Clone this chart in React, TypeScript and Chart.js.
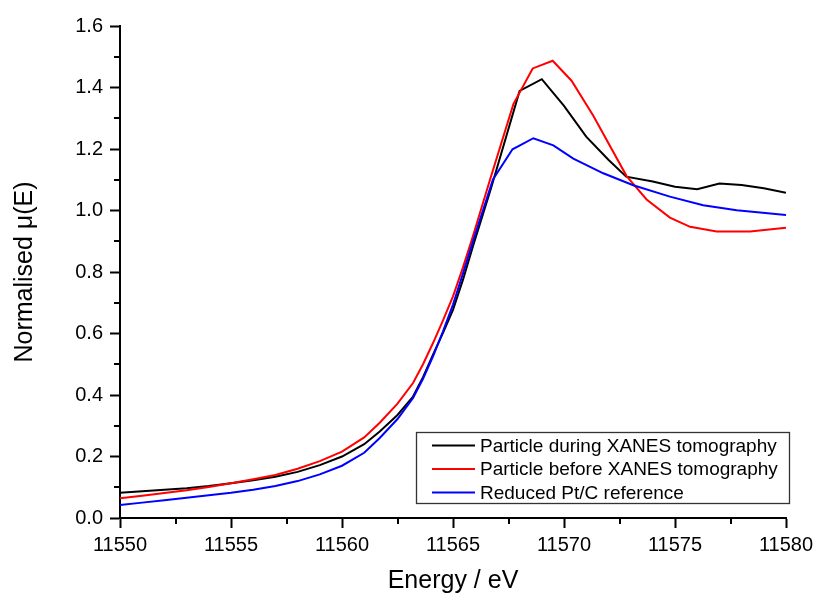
import { useEffect, useRef } from "react";
import { Chart, registerables } from "chart.js";

Chart.register(...registerables);

const FONT = "Arial, 'Liberation Sans', sans-serif";

// Particle during XANES tomography (black)
const energyDuring = [
  11550, 11551, 11552, 11553, 11554, 11555, 11556, 11557, 11558, 11559, 11560,
  11561, 11561.7, 11562.5, 11563.2, 11563.65, 11564.1, 11564.55, 11565, 11565.45,
  11565.9, 11566.7, 11568, 11569, 11570, 11571, 11572, 11572.8, 11574, 11575,
  11576, 11577, 11578, 11579, 11580,
];
const muDuring = [
  0.082, 0.087, 0.092, 0.097, 0.104, 0.113, 0.123, 0.134, 0.15, 0.172, 0.2,
  0.24, 0.281, 0.335, 0.395, 0.458, 0.531, 0.602, 0.677, 0.775,
  0.884, 1.069, 1.389, 1.427, 1.34, 1.24, 1.165, 1.11, 1.094, 1.077,
  1.069, 1.088, 1.083, 1.072, 1.058,
];

// Particle before XANES tomography (red)
const energyBefore = [
  11550, 11551, 11552, 11553, 11554, 11555, 11556, 11557, 11558, 11559, 11560,
  11561, 11561.7, 11562.5, 11563.2, 11563.65, 11564.1, 11564.55, 11565, 11565.45,
  11565.9, 11566.67, 11567.72, 11568.59, 11569.49, 11570.34, 11571.32, 11572.82,
  11573.72, 11574.77, 11575.68, 11576.88, 11578.38, 11580,
];
const muBefore = [
  0.064, 0.072, 0.081, 0.09, 0.101, 0.113, 0.126, 0.14, 0.16, 0.185, 0.216,
  0.262, 0.31, 0.372, 0.439, 0.5, 0.569, 0.643, 0.721, 0.815,
  0.917, 1.101, 1.346, 1.462, 1.487, 1.422, 1.308, 1.112,
  1.036, 0.977, 0.947, 0.932, 0.932, 0.944,
];

// Reduced Pt/C reference (blue)
const energyReference = [
  11550, 11551, 11552, 11553, 11554, 11555, 11556, 11557, 11558, 11559, 11560,
  11561, 11561.7, 11562.5, 11563.2, 11563.65, 11564.1, 11564.55, 11565, 11565.45,
  11565.9, 11566.8, 11567.68, 11568.62, 11569.52, 11570.42, 11571.77,
  11573.12, 11574.77, 11576.27, 11577.78, 11580,
];
const muReference = [
  0.042, 0.05, 0.058, 0.066, 0.074, 0.082, 0.092, 0.104, 0.12, 0.142, 0.17,
  0.212, 0.26, 0.322, 0.39, 0.453, 0.526, 0.607, 0.694, 0.795,
  0.9, 1.101, 1.199, 1.235, 1.212, 1.169, 1.121,
  1.082, 1.045, 1.017, 1.001, 0.985,
];

const seriesLabels = [
  "Particle during XANES tomography",
  "Particle before XANES tomography",
  "Reduced Pt/C reference",
];
const seriesColors = ["#000000", "#ff0000", "#0000ff"];

const xMin = 11550;
const xMax = 11580;
const xStep = 5;
const yMin = 0;
const yMax = 1.6;
const yStep = 0.2;

const toPoints = (xs: number[], ys: number[]) =>
  xs.map((x, i) => ({ x, y: ys[i] }));

const minorTicksPlugin = {
  id: "minorTicks",
  afterDraw(chart: any) {
    const { ctx, chartArea } = chart;
    const xs = chart.scales.x;
    const ys = chart.scales.y;
    ctx.save();
    ctx.strokeStyle = "#000";
    ctx.lineWidth = 2;
    ctx.beginPath();
    for (let v = xMin + xStep / 2; v < xMax; v += xStep) {
      const px = Math.round(xs.getPixelForValue(v));
      ctx.moveTo(px, chartArea.bottom);
      ctx.lineTo(px, chartArea.bottom + 6);
    }
    for (let i = 0; i < 8; i++) {
      const v = yMin + yStep / 2 + i * yStep;
      const py = Math.round(ys.getPixelForValue(v));
      ctx.moveTo(chartArea.left, py);
      ctx.lineTo(chartArea.left - 6, py);
    }
    ctx.stroke();
    ctx.restore();
  },
};

const boxLegendPlugin = {
  id: "boxLegend",
  afterDraw(chart: any) {
    const { ctx, chartArea } = chart;
    const w = 373;
    const h = 71;
    const right = chartArea.right + 3;
    const bottom = chartArea.bottom - 15;
    const left = right - w;
    const top = bottom - h;
    ctx.save();
    ctx.fillStyle = "#ffffff";
    ctx.fillRect(left, top, w, h);
    ctx.strokeStyle = "#333333";
    ctx.lineWidth = 1.3;
    ctx.strokeRect(left + 0.5, top + 0.5, w, h);
    ctx.font = `19px ${FONT}`;
    ctx.textBaseline = "middle";
    ctx.textAlign = "left";
    chart.data.datasets.forEach((ds: any, i: number) => {
      const y = top + 13.5 + i * 23.5;
      ctx.strokeStyle = ds.borderColor;
      ctx.lineWidth = 2;
      ctx.beginPath();
      ctx.moveTo(left + 16, y);
      ctx.lineTo(left + 59, y);
      ctx.stroke();
      ctx.fillStyle = "#000";
      ctx.fillText(ds.label, left + 64, y + 1);
    });
    ctx.restore();
  },
};

export default function App() {
  const canvasRef = useRef<HTMLCanvasElement | null>(null);

  useEffect(() => {
    if (!canvasRef.current) return;
    const datasets = [
      toPoints(energyDuring, muDuring),
      toPoints(energyBefore, muBefore),
      toPoints(energyReference, muReference),
    ].map((data, i) => ({
      label: seriesLabels[i],
      data,
      borderColor: seriesColors[i],
      backgroundColor: seriesColors[i],
      borderWidth: 2,
      pointRadius: 0,
      tension: 0,
      fill: false,
      order: 3 - i,
    }));

    const chart = new Chart(canvasRef.current, {
      type: "line",
      data: { datasets },
      options: {
        animation: false,
        responsive: false,
        maintainAspectRatio: false,
        layout: { padding: { top: 26, right: 34, bottom: 0, left: 0 } },
        plugins: {
          legend: { display: false },
          tooltip: { enabled: false },
        },
        scales: {
          x: {
            type: "linear",
            min: xMin,
            max: xMax,
            afterFit: (scale: any) => {
              scale.height = 83;
            },
            border: { display: true, color: "#000", width: 2 },
            grid: {
              drawOnChartArea: false,
              drawTicks: true,
              tickLength: 10,
              tickWidth: 2,
              tickColor: "#000",
            },
            ticks: {
              stepSize: xStep,
              color: "#000",
              padding: 5,
              maxRotation: 0,
              autoSkip: false,
              font: { family: FONT, size: 20 },
              callback: (v: any) => String(v),
            },
            title: {
              display: true,
              text: "Energy / eV",
              color: "#000",
              font: { family: FONT, size: 25 },
              padding: { top: 0, bottom: 5 },
            },
          },
          y: {
            type: "linear",
            min: yMin,
            max: yMax,
            afterFit: (scale: any) => {
              scale.width = 120;
            },
            border: { display: true, color: "#000", width: 2 },
            grid: {
              drawOnChartArea: false,
              drawTicks: true,
              tickLength: 10,
              tickWidth: 2,
              tickColor: "#000",
            },
            ticks: {
              stepSize: yStep,
              color: "#000",
              padding: 7,
              font: { family: FONT, size: 20 },
              callback: (v: any) => Number(v).toFixed(1),
            },
            title: {
              display: true,
              text: "Normalised μ(E)",
              color: "#000",
              font: { family: FONT, size: 25 },
              padding: { top: 10, bottom: 0 },
            },
          },
        },
      },
      plugins: [minorTicksPlugin, boxLegendPlugin],
    } as any);
    return () => chart.destroy();
  }, []);

  return (
    <div style={{ position: "absolute", left: 0, top: 0, width: 820, height: 601, background: "#fff" }}>
      <canvas ref={canvasRef} width={820} height={601} style={{ width: 820, height: 601 }} />
    </div>
  );
}
